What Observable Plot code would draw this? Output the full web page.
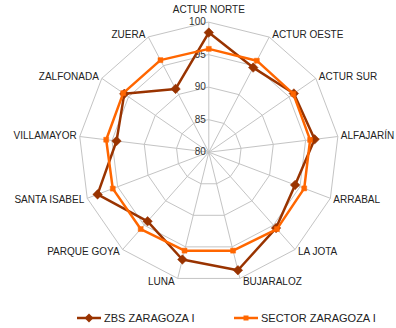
<!DOCTYPE html>
<html>
<head>
<meta charset="utf-8">
<script src="https://cdn.jsdelivr.net/npm/d3@7"></script>
<script src="https://cdn.jsdelivr.net/npm/@observablehq/plot@0.6"></script>
<style>
  body { margin: 0; background: #fff; }
  #chart { width: 396px; }
  #legend { position: relative; width: 396px; height: 28px; font: 11px "Liberation Sans", Arial, sans-serif; color: #222; }
  #legend .item { position: absolute; top: 12px; display: flex; align-items: center; white-space: nowrap; }
  #legend svg { margin-right: 3px; }
</style>
</head>
<body>
<div id="chart"></div>
<div id="legend"></div>
<script>
const categories = ["ACTUR NORTE","ACTUR OESTE","ACTUR SUR","ALFAJARÍN","ARRABAL","LA JOTA","BUJARALOZ","LUNA","PARQUE GOYA","SANTA ISABEL","VILLAMAYOR","ZALFONADA","ZUERA"];
const zbs    = [98.4, 94.7, 95.9, 96.4, 94.2, 95.6, 98.7, 97.0, 94.2, 98.3, 94.3, 95.8, 91.0];
const sector = [95.9, 95.9, 95.8, 95.7, 95.7, 95.8, 95.6, 95.6, 95.8, 95.8, 95.9, 96.0, 96.0];
const ticks = [80, 85, 90, 95, 100];
const seriesNames = ["ZBS ZARAGOZA I", "SECTOR ZARAGOZA I"];
const colors = ["#993300", "#FF6600"];

const rMin = 80, rMax = 100;
const n = categories.length;
const ang = i => i * 2 * Math.PI / n;
const px = (v, i) => (v - rMin) * Math.sin(ang(i));
const py = (v, i) => (v - rMin) * Math.cos(ang(i));

const W = 396, H = 300;
const cx = 208.3, cy = 151.7, k = 6.5;

const rings = ticks.filter(t => t > rMin).flatMap(t => categories.map((c, i) => ({t, i})));
const seriesData = [
  ...categories.map((c, i) => ({s: seriesNames[0], i, v: zbs[i]})),
  ...categories.map((c, i) => ({s: seriesNames[1], i, v: sector[i]}))
];
const idx = categories.map((c, i) => i);

const labelMarks = categories.map((c, i) => {
  const a = ang(i);
  const s = Math.sin(a), co = Math.cos(a);
  let anchor = "middle", dx = 0, dy = -3 * co;
  if (Math.abs(s) < 0.01) { dy = -12; }
  else if (s > 0) { anchor = "start"; dx = 3; }
  else { anchor = "end"; dx = -3; }
  return Plot.text([i], {
    x: d => px(rMax, d), y: d => py(rMax, d), text: d => categories[d],
    textAnchor: anchor, dx, dy, fill: "#222", fontSize: 10
  });
});

const chart = Plot.plot({
  width: W, height: H,
  marginLeft: 0, marginRight: 0, marginTop: 0, marginBottom: 0,
  style: {fontFamily: "'Liberation Sans', Arial, sans-serif", fontSize: "10px", background: "#fff"},
  x: {domain: [-cx / k, (W - cx) / k], axis: null},
  y: {domain: [-(H - cy) / k, cy / k], axis: null},
  marks: [
    Plot.line(rings, {x: d => px(d.t, d.i), y: d => py(d.t, d.i), z: "t", curve: "linear-closed", stroke: "#c4c4c4", strokeWidth: 1}),
    Plot.link(idx, {x1: () => 0, y1: () => 0, x2: d => px(rMax, d), y2: d => py(rMax, d), stroke: "#c4c4c4", strokeWidth: 1}),
    Plot.text(ticks, {x: () => 0, y: d => d - rMin, text: d => String(d), textAnchor: "end", dx: -3, fill: "#333", fontSize: 10}),
    ...labelMarks,
    Plot.line(seriesData.filter(d => d.s === seriesNames[0]), {x: d => px(d.v, d.i), y: d => py(d.v, d.i), curve: "linear-closed", stroke: colors[0], strokeWidth: 2.5}),
    Plot.dot(seriesData.filter(d => d.s === seriesNames[0]), {x: d => px(d.v, d.i), y: d => py(d.v, d.i), symbol: "diamond2", r: 4.3, fill: colors[0], stroke: colors[0], strokeWidth: 0.5}),
    Plot.line(seriesData.filter(d => d.s === seriesNames[1]), {x: d => px(d.v, d.i), y: d => py(d.v, d.i), curve: "linear-closed", stroke: colors[1], strokeWidth: 2.5}),
    Plot.dot(seriesData.filter(d => d.s === seriesNames[1]), {x: d => px(d.v, d.i), y: d => py(d.v, d.i), symbol: "square", r: 2.8, fill: colors[1], stroke: colors[1], strokeWidth: 0.5})
  ]
});
document.getElementById("chart").appendChild(chart);

// legend
const legend = document.getElementById("legend");
const lefts = [77, 234];
seriesNames.forEach((name, j) => {
  const item = document.createElement("div");
  item.className = "item";
  item.style.left = lefts[j] + "px";
  const sym = j === 0
    ? `<path d="M12,1.5 L16.5,6 L12,10.5 L7.5,6 Z" fill="${colors[0]}"/>`
    : `<rect x="9.5" y="3.5" width="5" height="5" fill="${colors[1]}"/>`;
  item.innerHTML = `<svg width="24" height="12"><line x1="0" y1="6" x2="24" y2="6" stroke="${colors[j]}" stroke-width="2.5"/>${sym}</svg><span>${name}</span>`;
  legend.appendChild(item);
});
</script>
</body>
</html>
